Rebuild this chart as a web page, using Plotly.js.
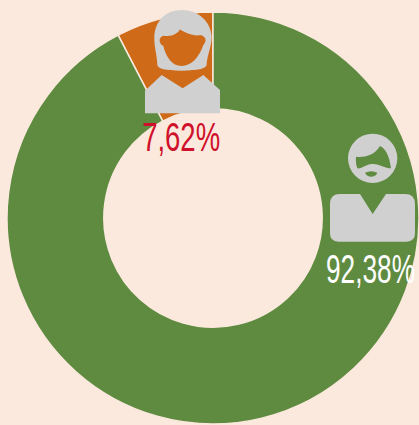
<!DOCTYPE html>
<html><head><meta charset="utf-8">
<script src="https://cdn.plot.ly/plotly-3.0.1.min.js"></script>
<style>html,body{margin:0;padding:0;background:#fbe9dd}#c{width:419px;height:425px}</style>
</head><body><div id="c"></div>
<script>
const categories = ['Mujeres', 'Hombres'];
const shares = [7.62, 92.38];
const sliceColors = ['#cf6b18', '#5f8b41'];
const labelsText = ['7,62%', '92,38%'];
const labelWidths = [78, 89];

const icons = `<svg xmlns="http://www.w3.org/2000/svg" width="419" height="425" viewBox="0 0 419 425">
<g transform="translate(100,0) scale(0.3333)" fill="#d0d0d0">
<path d="M245 30C195 30 165 65 163 110C162 140 172 170 172 195C175 208 195 210 245 212C295 210 315 208 320 195C320 170 335 140 335 110C333 65 295 30 245 30Z"/>
<path fill="#cf6b18" d="M190 107C215 112 235 100 240 88C255 100 285 110 302 105C318 110 322 122 310 135C298 170 275 198 245 198C215 198 198 170 190 138C175 130 175 112 190 107Z"/>
<path d="M135 340L135 272L185 225L248 265L310 225L360 270L360 340Z"/>
</g>
<g transform="translate(310,120) scale(0.3333)" fill="#d0d0d0">
<circle cx="188" cy="115" r="74"/>
<path fill="#5f8b41" d="M138 110C155 112 190 112 210 78C225 85 238 105 243 145C225 145 205 130 188 132C170 130 155 148 142 145C138 135 137 122 138 110Z"/>
<path fill="#5f8b41" d="M165 158C178 152 190 152 202 158C198 172 172 176 165 158Z"/>
<path d="M90 222L150 222L188 282L228 222L285 222Q315 222 315 252L315 340Q315 365 290 365L85 365Q60 365 60 340L60 252Q60 222 90 222Z"/>
</g></svg>`;

const W = 419, H = 425;
const data = [{
  type: 'pie',
  labels: categories,
  values: shares,
  hole: 0.53,
  sort: false,
  direction: 'clockwise',
  rotation: -27.43,
  textinfo: 'none',
  hoverinfo: 'label+percent',
  showlegend: false,
  marker: {colors: sliceColors, line: {color: '#fbe9dd', width: 1.5}},
  domain: {x: [7 / W, 1], y: [1 - 424 / H, 1 - 12 / H]}
}];
const font = 'Liberation Sans, sans-serif';
const layout = {
  width: W, height: H,
  margin: {l: 0, r: 0, t: 0, b: 0},
  paper_bgcolor: '#fbe9dd',
  showlegend: false,
  images: [{
    source: 'data:image/svg+xml;utf8,' + encodeURIComponent(icons),
    xref: 'paper', yref: 'paper', x: 0, y: 1, sizex: 1, sizey: 1,
    xanchor: 'left', yanchor: 'top', sizing: 'stretch', layer: 'above'
  }],
  annotations: [
    {text: labelsText[0], xref: 'paper', yref: 'paper', x: 181 / W, y: 1 - 137 / H, showarrow: false,
     xanchor: 'center', yanchor: 'middle', font: {family: font, size: 41, color: '#d0112b'}},
    {text: labelsText[1], xref: 'paper', yref: 'paper', x: 370 / W, y: 1 - 269 / H, showarrow: false,
     xanchor: 'center', yanchor: 'middle', font: {family: font, size: 41, color: '#ffffff'}}
  ]
};
Plotly.newPlot('c', data, layout, {displayModeBar: false, staticPlot: true}).then(function (gd) {
  gd.querySelectorAll('.annotation-text').forEach(function (t, i) {
    t.setAttribute('textLength', labelWidths[i]);
    t.setAttribute('lengthAdjust', 'spacingAndGlyphs');
  });
});
</script></body></html>
